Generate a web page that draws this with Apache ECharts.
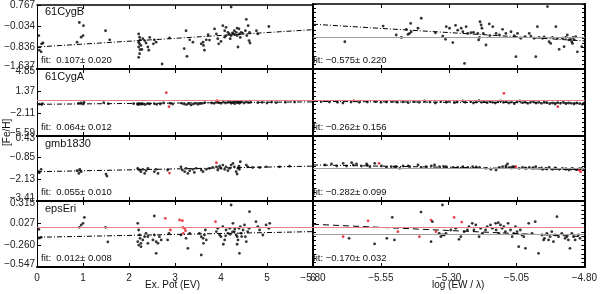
<!DOCTYPE html>
<html><head><meta charset="utf-8">
<script src="https://cdn.jsdelivr.net/npm/echarts@6/dist/echarts.min.js"></script>
<style>html,body{margin:0;padding:0;background:#fff}#c{width:600px;height:294px}</style>
</head><body><div id="c"></div>
<script>
const panelNames = ['61CygB', '61CygA', 'gmb1830', 'epsEri'];
const fitLeftText = ['fit:  0.107\u00b1 0.020', 'fit:  0.064\u00b1 0.012', 'fit:  0.055\u00b1 0.010', 'fit:  0.012\u00b1 0.008'];
const fitRightText = ['fit: \u22120.575\u00b1 0.220', 'fit: \u22120.262\u00b1 0.156', 'fit: \u22120.282\u00b1 0.099', 'fit: \u22120.170\u00b1 0.032'];
const yTickLabels = [
  ['0.767', '-0.034', '-0.836', '-1.637'],
  ['4.85', '1.37', '-2.11', '-5.59'],
  ['0.43', '-0.85', '-2.13', '-3.41'],
  ['0.315', '0.027', '-0.260', '-0.547']
];
const xTicksLeft = [0, 1, 2, 3, 4, 5, 6];
const xTicksRight = ['-5.80', '-5.55', '-5.30', '-5.05', '-4.80'];
const xTitleLeft = 'Ex. Pot (EV)';
const xTitleRight = 'log (EW / \u03bb)';
const yTitle = '[Fe/H]';

const fitLeft = [
  [[0, -0.81], [6, -0.16]],
  [[0, -0.65], [6, -0.27]],
  [[0, -1.68], [6, -1.35]],
  [[0, -0.159], [6, -0.085]]
];
const fitRight = [
  [[-5.80, 0.02], [-4.80, -0.60]],
  [[-5.80, -0.20], [-4.80, -0.46]],
  [[-5.80, -1.28], [-4.80, -1.56]],
  [[-5.80, 0.011], [-4.80, -0.151]]
];
const redLevel = [null, -0.09, null, -0.029];
const grayLevelLeft = [null, null, null, null];
const grayLevelRight = [-0.454, null, -1.48, -0.116];

const ep1Black = [[0.04,-0.38],[0.1,-0.69],[0.13,-0.66],[0.05,-0.93],[0.09,-0.99],[0.92,0.11],[1.01,-0.01],[1.0,-0.38],[0.96,-0.44],[0.87,-0.63],[1.49,-0.2],[1.58,-0.54],[2.21,-0.32],[2.23,-0.44],[2.24,-0.54],[2.21,-0.63],[2.23,-0.69],[2.26,-0.75],[2.21,-0.81],[2.24,-0.91],[2.23,-1.06],[2.21,-1.2],[2.3,-0.5],[2.28,-0.9],[2.34,-0.57],[2.37,-0.66],[2.41,-0.81],[2.43,-0.93],[2.45,-0.45],[2.55,-0.54],[2.59,-0.63],[2.53,-0.69],[2.72,-1.45],[2.88,-0.47],[3.2,-0.87],[3.26,-1.16],[3.24,-0.2],[3.32,-0.54],[3.39,-0.63],[3.57,-0.69],[3.61,-0.63],[3.64,-0.93],[3.68,-0.54],[3.62,-0.75],[3.72,-0.35],[3.75,-0.55],[3.86,-0.13],[3.9,-0.32],[3.93,-0.5],[3.95,-0.69],[4.0,-0.6],[4.04,-0.01],[4.08,-0.2],[4.11,-0.07],[4.15,-0.26],[4.18,-0.32],[4.11,-0.38],[4.08,-0.44],[4.22,0.69],[4.2,-0.5],[4.22,-0.38],[4.25,-0.28],[4.26,-0.32],[4.29,-0.2],[4.3,-0.35],[4.33,-0.26],[4.35,-0.38],[4.35,-0.1],[4.37,-0.81],[4.4,-0.32],[4.39,-0.13],[4.42,-0.45],[4.44,-0.26],[4.47,-0.3],[4.53,-0.2],[4.55,0.23],[4.56,-0.38],[4.59,-0.01],[4.62,-0.26],[4.61,-0.57],[4.63,-0.66],[4.77,-0.2],[4.8,-0.32],[5.04,-0.04]];
const ep1Red = [];
const lg1Black = [[-5.683,-0.63],[-5.542,-0.05],[-5.494,-0.38],[-5.475,-0.47],[-5.457,-0.17],[-5.445,-0.32],[-5.439,-0.26],[-5.451,-0.36],[-5.441,0.05],[-5.402,0.24],[-5.414,-0.13],[-5.35,-0.3],[-5.323,-0.42],[-5.313,-0.54],[-5.286,-0.66],[-5.310,-0.07],[-5.298,-0.13],[-5.276,-0.02],[-5.268,-0.2],[-5.255,-0.13],[-5.249,-0.26],[-5.243,-1.43],[-5.237,-0.07],[-5.231,-0.32],[-5.219,-0.29],[-5.21,-0.28],[-5.194,-0.32],[-5.188,-0.47],[-5.191,-0.56],[-5.186,0.11],[-5.182,-0.01],[-5.179,-0.13],[-5.174,-0.32],[-5.164,-0.75],[-5.152,0.03],[-5.15,-0.4],[-5.139,-0.07],[-5.127,-0.32],[-5.115,-0.38],[-5.103,-0.17],[-5.091,-0.32],[-5.072,-0.26],[-5.06,-0.4],[-5.054,-1.18],[-5.048,-0.32],[-5.036,-0.5],[-5.02,-0.44],[-5.005,-0.32],[-4.999,-0.42],[-4.987,-0.5],[-4.981,-1.18],[-4.975,-0.07],[-4.969,-0.47],[-4.956,-0.5],[-4.95,-0.45],[-4.938,0.67],[-4.932,-0.63],[-4.926,-0.69],[-4.920,-0.47],[-4.907,-0.07],[-4.901,-0.5],[-4.895,-0.91],[-4.883,-0.5],[-4.877,-0.81],[-4.871,-0.47],[-4.865,-0.38],[-4.859,-0.56],[-4.853,-0.54],[-4.849,-0.63],[-4.846,-0.69],[-4.844,-0.47],[-4.84,-0.55],[-4.834,-0.44],[-4.828,-1.0],[-4.812,-0.81]];
const lg1Red = [];

const ep2Black = [[0.05,-0.62],[0.12,-0.55],[0.1,-0.7],[0.9,-0.5],[0.95,-0.45],[1.02,-0.35],[1.0,-0.6],[1.45,-0.4],[1.55,-0.55],[2.1,-0.55],[2.18,-0.6],[2.2,-0.7],[2.22,-0.5],[2.25,-0.65],[2.28,-0.55],[2.3,-0.6],[2.35,-0.7],[2.4,-0.55],[2.45,-0.6],[2.55,-0.55],[2.6,-0.65],[2.68,-0.6],[2.75,-0.45],[2.9,-0.5],[2.95,-0.6],[3.15,-0.5],[3.2,-0.6],[3.25,-0.7],[3.3,-0.55],[3.35,-0.75],[3.4,-0.6],[3.45,-0.5],[3.5,-0.65],[3.55,-0.55],[3.6,-0.5],[3.65,-0.4],[3.8,-0.45],[3.85,-0.5],[3.9,-0.35],[3.95,-0.4],[4.0,-0.5],[4.05,-0.3],[4.1,-0.45],[4.15,-0.35],[4.2,-0.25],[4.22,-0.5],[4.25,-0.4],[4.28,-0.3],[4.3,-0.55],[4.33,-0.2],[4.35,-0.4],[4.38,-0.3],[4.4,-0.5],[4.42,-0.35],[4.45,-0.25],[4.5,-0.45],[4.55,-0.3],[4.6,-0.4],[4.65,-0.35],[4.8,-0.4],[4.9,-0.35],[5.0,-0.45],[5.1,-0.3],[5.2,-0.4],[5.4,-0.35],[5.6,-0.3]];
const ep2Red = [[2.81,1.16],[2.87,-1.02],[3.92,-0.1]];
const lg2Black = [[-5.77,-0.24],[-5.74,-0.3],[-5.71,-0.34],[-5.69,-0.45],[-5.66,-0.3],[-5.63,-0.34],[-5.6,-0.3],[-5.57,-0.24],[-5.55,-0.34],[-5.53,-0.3],[-5.51,-0.24],[-5.49,-0.34],[-5.47,-0.28],[-5.45,-0.4],[-5.43,-0.24],[-5.41,-0.34],[-5.39,-0.14],[-5.37,-0.3],[-5.35,-0.45],[-5.33,-0.24],[-5.31,-0.34],[-5.3,-0.2],[-5.28,-0.4],[-5.27,-0.3],[-5.25,-0.14],[-5.24,-0.35],[-5.22,-0.24],[-5.21,-0.45],[-5.2,-0.3],[-5.19,-0.1],[-5.18,-0.35],[-5.17,-0.24],[-5.16,-0.4],[-5.15,-0.2],[-5.14,-0.34],[-5.13,-0.45],[-5.12,-0.28],[-5.11,-0.14],[-5.1,-0.35],[-5.09,-0.24],[-5.08,-0.45],[-5.07,-0.3],[-5.06,-0.55],[-5.05,-0.24],[-5.04,-0.14],[-5.03,-0.4],[-5.02,-0.3],[-5.01,-0.5],[-5.0,-0.35],[-4.99,-0.2],[-4.98,-0.45],[-4.97,-0.35],[-4.96,-0.5],[-4.95,-0.3],[-4.94,-0.4],[-4.93,-0.55],[-4.92,-0.45],[-4.91,-0.6],[-4.9,-0.4],[-4.89,-0.5],[-4.88,-0.35],[-4.87,-0.55],[-4.86,-0.45],[-4.85,-0.5],[-4.84,-0.6],[-4.83,-0.45],[-4.82,-0.55],[-4.81,-0.65],[-4.805,-0.5]];
const lg2Red = [[-5.65,-0.09],[-5.098,1.06],[-4.9,-1.02]];

const ep3Black = [[0.04,-1.68],[0.09,-1.54],[0.05,-1.74],[0.87,-1.62],[0.93,-1.54],[0.96,-1.68],[0.91,-1.78],[1.5,-1.82],[1.52,-1.94],[2.19,-1.48],[2.23,-1.58],[2.26,-1.68],[2.3,-1.54],[2.34,-1.78],[2.37,-1.62],[2.41,-1.48],[2.55,-1.68],[2.59,-1.54],[2.63,-1.78],[2.84,-1.58],[3.13,-1.39],[3.16,-1.58],[3.21,-1.68],[3.24,-1.48],[3.28,-1.78],[3.32,-1.62],[3.39,-1.54],[3.42,-1.72],[3.46,-1.48],[3.57,-1.58],[3.61,-1.68],[3.68,-1.54],[3.75,-1.48],[3.82,-1.43],[3.9,-1.39],[3.93,-1.58],[3.97,-1.35],[4.0,-1.48],[4.04,-1.29],[4.08,-1.54],[4.11,-1.39],[4.15,-1.62],[4.19,-1.48],[4.22,-1.29],[4.26,-1.19],[4.29,-1.39],[4.33,-1.68],[4.35,-1.82],[4.37,-1.48],[4.39,-1.35],[4.4,-1.54],[4.42,-1.09],[4.55,-1.29],[4.58,-1.39],[4.69,-1.43],[4.84,-1.43],[4.98,-1.39],[5.27,-1.39],[5.49,-1.35]];
const ep3Red = [[2.88,-1.76],[3.9,-1.15]];
const lg3Black = [[-5.756,-1.284],[-5.732,-1.224],[-5.713,-1.343],[-5.689,-1.185],[-5.677,-1.343],[-5.658,-1.146],[-5.652,-1.284],[-5.64,-1.224],[-5.622,-1.343],[-5.603,-1.224],[-5.6,-1.3],[-5.591,-1.382],[-5.573,-1.185],[-5.548,-1.343],[-5.53,-1.421],[-5.512,-1.382],[-5.5,-1.4],[-5.494,-1.382],[-5.481,-1.48],[-5.469,-1.343],[-5.45,-1.33],[-5.445,-1.382],[-5.414,-1.284],[-5.402,-1.421],[-5.384,-1.382],[-5.365,-1.343],[-5.353,-1.284],[-5.335,-1.382],[-5.32,-1.36],[-5.31,-1.382],[-5.286,-1.421],[-5.268,-1.421],[-5.25,-1.44],[-5.249,-1.382],[-5.231,-1.421],[-5.213,-1.382],[-5.2,-1.4],[-5.188,-1.421],[-5.164,-1.48],[-5.146,-1.54],[-5.127,-1.579],[-5.115,-1.421],[-5.103,-1.382],[-5.091,-1.343],[-5.09,-1.44],[-5.085,-1.224],[-5.078,-1.421],[-5.07,-1.46],[-5.066,-1.382],[-5.06,-1.4],[-5.042,-1.48],[-5.03,-1.421],[-5.02,-1.45],[-5.017,-1.48],[-5.005,-1.421],[-4.993,-1.48],[-4.99,-1.44],[-4.981,-1.382],[-4.969,-1.48],[-4.96,-1.46],[-4.956,-1.54],[-4.944,-1.48],[-4.94,-1.52],[-4.932,-1.421],[-4.92,-1.54],[-4.91,-1.45],[-4.907,-1.48],[-4.895,-1.54],[-4.883,-1.48],[-4.871,-1.54],[-4.87,-1.5],[-4.859,-1.579],[-4.85,-1.52],[-4.846,-1.48],[-4.834,-1.54],[-4.83,-1.56],[-4.82,-1.5],[-4.812,-1.48]];
const lg3Red = [[-5.557,-1.185],[-5.054,-1.382],[-4.822,-1.579],[-4.816,-1.678]];

const ep4Black = [[0.04,-0.055],[0.09,-0.16],[0.05,-0.17],[0.92,-0.029],[0.96,0.0],[1.0,0.023],[1.03,0.1],[1.49,-0.029],[1.54,-0.22],[2.19,0.023],[2.21,-0.064],[2.23,-0.129],[2.24,-0.172],[2.19,-0.216],[2.26,-0.238],[2.21,-0.26],[2.26,-0.281],[2.3,-0.194],[2.34,-0.151],[2.37,-0.107],[2.41,-0.238],[2.41,-0.151],[2.52,-0.194],[2.55,-0.129],[2.59,-0.216],[2.63,-0.238],[2.66,-0.151],[2.7,-0.194],[2.55,0.119],[2.59,-0.368],[2.84,-0.194],[2.87,-0.107],[3.13,-0.129],[3.24,-0.172],[3.32,-0.107],[3.28,-0.303],[3.57,-0.39],[3.53,-0.107],[3.57,-0.151],[3.61,-0.172],[3.64,-0.129],[3.68,-0.194],[3.62,-0.238],[3.66,-0.064],[3.9,-0.085],[3.93,-0.042],[3.97,-0.129],[4.0,-0.151],[4.04,-0.02],[4.05,-0.25],[4.08,-0.194],[4.1,-0.14],[4.11,-0.064],[4.15,-0.107],[4.19,-0.042],[4.2,-0.12],[4.22,0.263],[4.25,-0.09],[4.26,0.023],[4.29,-0.085],[4.3,-0.05],[4.33,-0.129],[4.35,-0.151],[4.35,-0.25],[4.37,-0.194],[4.4,-0.368],[4.39,-0.042],[4.42,-0.02],[4.44,-0.107],[4.45,-0.15],[4.48,-0.064],[4.51,0.002],[4.53,-0.151],[4.55,-0.216],[4.58,-0.085],[4.62,0.176],[4.61,-0.042],[4.76,0.045],[4.8,-0.02],[4.84,-0.064],[4.91,-0.129],[4.98,0.002],[5.06,0.023],[5.04,-0.042]];
const ep4Red = [[2.79,0.089],[2.9,-0.064],[3.1,0.067],[3.16,0.058],[3.17,-0.029],[3.18,-0.107],[3.21,-0.042],[3.23,-0.072],[3.88,0.045]];
const lg4Black = [[-5.667,-0.172],[-5.573,-0.246],[-5.528,-0.172],[-5.5,-0.194],[-5.508,0.102],[-5.402,0.17],[-5.36,0.045],[-5.365,-0.216],[-5.335,-0.107],[-5.329,-0.151],[-5.323,-0.129],[-5.316,-0.129],[-5.31,-0.107],[-5.323,0.263],[-5.292,-0.064],[-5.274,-0.042],[-5.262,-0.185],[-5.255,-0.151],[-5.243,-0.085],[-5.231,-0.064],[-5.225,-0.02],[-5.213,0.023],[-5.207,-0.064],[-5.2,0.002],[-5.188,-0.151],[-5.182,-0.042],[-5.176,-0.107],[-5.164,-0.064],[-5.158,-0.02],[-5.146,0.002],[-5.139,-0.042],[-5.127,0.023],[-5.125,-0.064],[-5.117,0.032],[-5.115,-0.107],[-5.109,0.002],[-5.103,-0.042],[-5.097,-0.02],[-5.091,-0.085],[-5.081,0.023],[-5.072,-0.064],[-5.066,-0.151],[-5.06,-0.107],[-5.054,-0.02],[-5.048,-0.085],[-5.042,-0.281],[-5.036,-0.064],[-5.03,-0.129],[-5.023,-0.151],[-5.017,-0.303],[-5.005,0.023],[-4.993,-0.107],[-4.981,0.045],[-4.969,-0.368],[-4.956,-0.129],[-4.95,-0.194],[-4.947,-0.172],[-4.938,-0.107],[-4.932,-0.194],[-4.926,-0.151],[-4.92,-0.085],[-4.914,-0.216],[-4.907,-0.129],[-4.901,0.11],[-4.895,-0.151],[-4.883,-0.107],[-4.871,-0.172],[-4.865,-0.151],[-4.859,-0.194],[-4.853,-0.303],[-4.846,-0.107],[-4.84,-0.151],[-4.834,-0.194],[-4.822,-0.129],[-4.816,-0.172]];
const lg4Red = [[-5.689,-0.151],[-5.597,0.056],[-5.487,-0.085],[-5.408,-0.151],[-5.365,0.066],[-5.347,-0.085],[-5.28,0.1],[-5.252,0.04]];

const blackLeft = [ep1Black, ep2Black, ep3Black, ep4Black];
const redLeft = [ep1Red, ep2Red, ep3Red, ep4Red];
const blackRight = [lg1Black, lg2Black, lg3Black, lg4Black];
const redRight = [lg1Red, lg2Red, lg3Red, lg4Red];

// ---------- layout / style ----------
const FONT = 'Liberation Sans, Arial, Helvetica, sans-serif';
const rowTop = [4, 69, 136, 201];
const rowH = [65, 67, 65, 66];
const colLeft = [37, 313];
const colW = [276, 272];
const minus = s => String(s).replace('-', '\u2212');

const grids = [], xAxes = [], yAxes = [], series = [], graphics = [];
for (let r = 0; r < 4; r++) {
  const tickVals = yTickLabels[r].map(Number);
  const ymax = tickVals[0], ymin = tickVals[tickVals.length - 1];
  const step = (ymax - ymin) / 3;
  const minorVals = [];
  for (let k = 0; k <= 15; k++) minorVals.push(ymin + step * k / 5);
  for (let c = 0; c < 2; c++) {
    const gi = grids.length;
    grids.push({left: colLeft[c], top: rowTop[r], width: colW[c], height: rowH[r], show: false});
    const isLast = r === 3;
    const lineW = 2;
    const xb = {
      type: 'value', gridIndex: gi, position: 'bottom',
      axisLine: {show: true, onZero: false, lineStyle: {color: '#000', width: lineW}},
      splitLine: {show: false},
      axisTick: {show: true, inside: true, length: 4, lineStyle: {color: '#000', width: 1}},
      axisLabel: {show: isLast, color: '#222', fontSize: 10, fontFamily: FONT, margin: 6}
    };
    if (c === 0) {
      Object.assign(xb, {min: xTicksLeft[0], max: xTicksLeft[xTicksLeft.length - 1], interval: 1});
      xb.axisLabel.formatter = v => String(v);
    } else {
      const vals = xTicksRight.map(Number);
      Object.assign(xb, {min: vals[0], max: vals[vals.length - 1]});
      xb.axisTick.customValues = vals;
      xb.axisLabel.customValues = vals;
      xb.axisLabel.formatter = v => minus(xTicksRight[vals.findIndex(t => Math.abs(t - v) < 1e-6)] || v.toFixed(2));
    }
    const xt = JSON.parse(JSON.stringify(xb));
    xt.position = 'top';
    xt.axisLabel = {show: false};
    xt.axisLine.lineStyle.width = r === 0 ? 1.5 : 2;
    if (c === 0) { xt.interval = 1; } else { xt.axisTick.customValues = xb.axisTick.customValues; }
    xAxes.push(xb, xt);
    const yl = {
      type: 'value', gridIndex: gi, position: 'left', min: ymin, max: ymax,
      axisLine: {show: true, onZero: false, lineStyle: {color: '#000', width: c === 0 ? 1 : 2}},
      splitLine: {show: false},
      axisTick: {show: true, inside: true, length: c === 0 ? 4 : 3, customValues: c === 0 ? tickVals : minorVals, lineStyle: {color: '#000', width: 1}},
      axisLabel: {show: c === 0, customValues: tickVals, fontSize: 10, fontFamily: FONT, color: '#222', margin: 2,
        formatter: (v) => {
          const i = tickVals.findIndex(t => Math.abs(t - v) < 1e-9);
          const s = minus(yTickLabels[r][i]);
          if (i === tickVals.length - 1) return '{lo|' + s + '}';
          if (i === 0 && r > 0) return '{hi|' + s + '}';
          return s;
        },
        rich: {
          lo: {padding: [0, 0, 6, 0], fontSize: 10, fontFamily: FONT, color: '#222'},
          hi: {padding: [5, 0, 0, 0], fontSize: 10, fontFamily: FONT, color: '#222'}
        }
      }
    };
    const yr = {
      type: 'value', gridIndex: gi, position: 'right', min: ymin, max: ymax,
      axisLine: {show: true, onZero: false, lineStyle: {color: '#000', width: c === 0 ? 1 : 2}},
      splitLine: {show: false},
      axisTick: {show: c === 1, inside: true, length: 3, customValues: minorVals, lineStyle: {color: '#000', width: 1}},
      axisLabel: {show: false}
    };
    yAxes.push(yl, yr);
    const xi = gi * 2, yi = gi * 2;
    const black = c === 0 ? blackLeft[r] : blackRight[r];
    const red = c === 0 ? redLeft[r] : redRight[r];
    const fit = c === 0 ? fitLeft[r] : fitRight[r];
    const mlData = [];
    const gray = c === 0 ? grayLevelLeft[r] : grayLevelRight[r];
    if (gray !== null) mlData.push({yAxis: gray, lineStyle: {color: '#a0a0a0', width: 1, type: 'solid'}});
    if (redLevel[r] !== null) mlData.push({yAxis: redLevel[r], lineStyle: {color: '#e88080', width: 1, type: 'solid'}});
    series.push({
      type: 'line', xAxisIndex: xi, yAxisIndex: yi, data: [], silent: true,
      markLine: {symbol: 'none', silent: true, animation: false, label: {show: false}, data: mlData}
    });
    series.push({
      type: 'line', xAxisIndex: xi, yAxisIndex: yi, data: fit, symbol: 'none', silent: true,
      lineStyle: {color: '#000', width: 1, type: (r === 3 && c === 1) ? [6, 4] : [5, 2, 1, 2]}
    });
    series.push({
      type: 'scatter', xAxisIndex: xi, yAxisIndex: yi, data: black, symbol: 'circle', symbolSize: 2.8, silent: true,
      itemStyle: {color: '#000'}
    });
    series.push({
      type: 'scatter', xAxisIndex: xi, yAxisIndex: yi, data: red, symbol: 'circle', symbolSize: 2.8, silent: true,
      itemStyle: {color: '#e8101a'}
    });
    if (c === 0) {
      graphics.push({type: 'text', left: 45, top: rowTop[r] + 2, style: {text: panelNames[r], font: '11px ' + FONT, fill: '#111'}});
      graphics.push({type: 'text', left: 41, top: rowTop[r] + rowH[r] - 14, style: {text: fitLeftText[r], font: '9.5px ' + FONT, fill: '#111'}});
    } else {
      graphics.push({type: 'text', left: 313, top: rowTop[r] + rowH[r] - 14, style: {text: fitRightText[r], font: '9.5px ' + FONT, fill: '#111'}});
    }
  }
}
graphics.push({type: 'text', left: 145, top: 280, style: {text: xTitleLeft, font: '10px ' + FONT, fill: '#111'}});
graphics.push({type: 'text', left: 432, top: 280, style: {text: xTitleRight, font: '10px ' + FONT, fill: '#111'}});
graphics.push({type: 'text', x: 2, y: 146, rotation: Math.PI / 2, style: {text: yTitle, font: '10px ' + FONT, fill: '#111'}});

const chart = echarts.init(document.getElementById('c'), null, {renderer: 'canvas'});
chart.setOption({
  animation: false,
  backgroundColor: '#fff',
  grid: grids, xAxis: xAxes, yAxis: yAxes, series: series, graphic: graphics
});
</script></body></html>
